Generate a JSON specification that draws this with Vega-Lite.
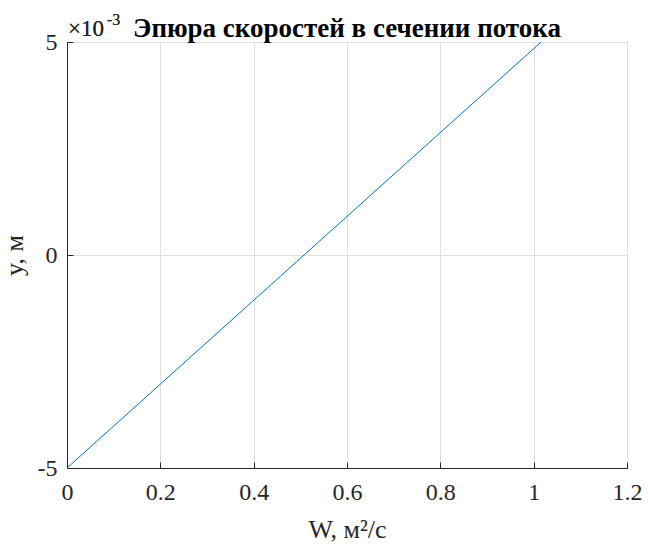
{
  "$schema": "https://vega.github.io/schema/vega-lite/v6.json",
  "width": 560,
  "height": 426,
  "autosize": {"type": "none"},
  "padding": {"left": 67, "top": 42, "right": 21, "bottom": 78},
  "background": "white",
  "config": {
    "font": "Liberation Serif",
    "view": {"stroke": "#262626", "strokeWidth": 1}
  },
  "title": {
    "text": "Эпюра скоростей в сечении потока",
    "font": "Liberation Serif",
    "fontSize": 27,
    "fontWeight": "bold",
    "color": "#000000",
    "baseline": "alphabetic",
    "offset": 0,
    "dy": 52
  },
  "data": {
    "values": [
      {"W": 0, "y": -0.005},
      {"W": 1.016, "y": 0.005}
    ]
  },
  "layer": [
    {
      "mark": {"type": "line", "color": "#0072BD", "strokeWidth": 1, "clip": true},
      "encoding": {
        "x": {
          "field": "W",
          "type": "quantitative",
          "scale": {"domain": [0, 1.2], "nice": false, "zero": false},
          "axis": {
            "title": "W, м²/с",
            "values": [0, 0.2, 0.4, 0.6, 0.8, 1, 1.2],
            "labelExpr": "format(datum.value, '~g')",
            "labelFlush": false,
            "labelFont": "Liberation Serif",
            "labelFontSize": 24,
            "labelColor": "#262626",
            "labelPadding": 18,
            "titleFont": "Liberation Serif",
            "titleFontSize": 26,
            "titleFontWeight": "normal",
            "titleColor": "#262626",
            "titlePadding": 12,
            "domainColor": "#262626",
            "tickColor": "#262626",
            "tickSize": -6,
            "gridColor": "#dfdfdf",
            "grid": true
          }
        },
        "y": {
          "field": "y",
          "type": "quantitative",
          "scale": {"domain": [-0.005, 0.005], "nice": false, "zero": false},
          "axis": {
            "title": "y, м",
            "values": [-0.005, 0, 0.005],
            "labelExpr": "replace(format(datum.value * 1000, '~g'), '−', '-')",
            "labelFlush": false,
            "labelFont": "Liberation Serif",
            "labelFontSize": 24,
            "labelColor": "#262626",
            "labelPadding": 16,
            "titleFont": "Liberation Serif",
            "titleFontSize": 26,
            "titleFontWeight": "normal",
            "titleColor": "#262626",
            "titlePadding": 10,
            "domainColor": "#262626",
            "tickColor": "#262626",
            "tickSize": -6,
            "gridColor": "#dfdfdf",
            "grid": true
          }
        }
      }
    },
    {
      "mark": {"type": "text", "text": "×10", "align": "left", "baseline": "alphabetic", "fontSize": 23, "font": "Liberation Serif", "color": "#262626", "dx": 1, "dy": -6},
      "encoding": {
        "x": {"datum": 0, "type": "quantitative"},
        "y": {"datum": 0.005, "type": "quantitative"}
      }
    },
    {
      "mark": {"type": "text", "text": "-3", "align": "left", "baseline": "alphabetic", "fontSize": 16, "font": "Liberation Serif", "color": "#262626", "dx": 40, "dy": -17},
      "encoding": {
        "x": {"datum": 0, "type": "quantitative"},
        "y": {"datum": 0.005, "type": "quantitative"}
      }
    }
  ]
}
